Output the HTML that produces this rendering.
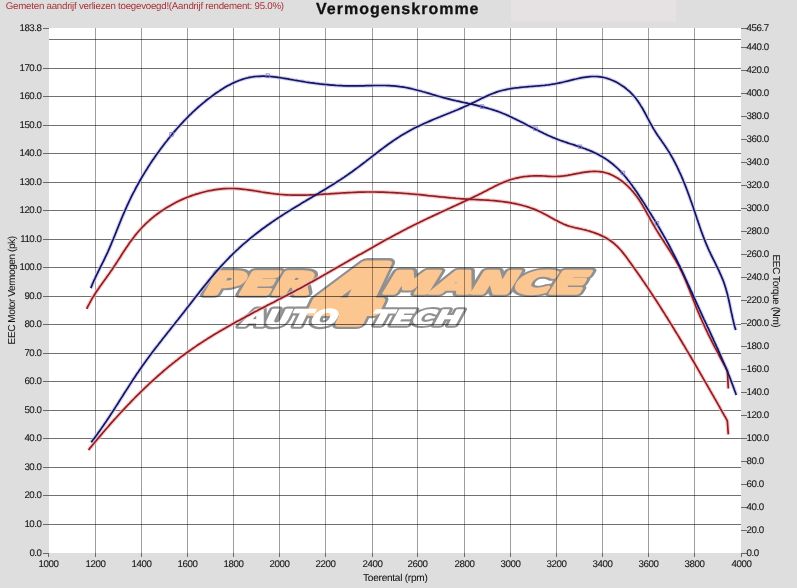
<!DOCTYPE html>
<html><head><meta charset="utf-8"><style>
html,body{margin:0;padding:0;}
body{width:797px;height:588px;overflow:hidden;background:#dedede;position:relative;}
svg{position:absolute;left:0;top:0;will-change:transform;}
</style></head><body>
<svg width="797" height="588" viewBox="0 0 797 588">
<rect x="511" y="0" width="165" height="21.5" fill="#e6e2e4"/>
<text x="5.8" y="9.0" font-family="Liberation Sans, Arial, sans-serif" font-size="9.7" letter-spacing="-0.23" text-rendering="geometricPrecision" fill="#a8323a">Gemeten aandrijf verliezen toegevoegd!(Aandrijf rendement: 95.0%)</text>
<text x="316" y="14.4" font-family="Liberation Sans, Arial, sans-serif" font-size="16" font-weight="bold" letter-spacing="1" text-rendering="geometricPrecision" fill="#111" stroke="#111" stroke-width="0.3">Vermogenskromme</text>
<rect x="49" y="28" width="692" height="525" fill="#fff"/><g font-family="DejaVu Sans, sans-serif" font-weight="bold" stroke-linejoin="round"><g transform="translate(201.97,293.70) scale(0.4813,0.3027) skewX(-20)"><text font-size="100" stroke="#909090" stroke-width="10.6" fill="#909090" vector-effect="non-scaling-stroke">PER</text></g><g transform="translate(380.82,293.41) scale(0.4973,0.2947) skewX(-20)"><text font-size="100" stroke="#909090" stroke-width="10.6" fill="#909090" vector-effect="non-scaling-stroke">MANCE</text></g><g transform="translate(301.82,322.70) scale(1.0479,0.8068) skewX(-20)"><text font-size="100" stroke="#909090" stroke-width="14.6" fill="#909090" vector-effect="non-scaling-stroke">4</text></g><g transform="translate(239.19,326.27) scale(0.3072,0.2293) skewX(-20)"><text font-size="100" stroke="#909090" stroke-width="7.0" fill="#909090" vector-effect="non-scaling-stroke">AUTO</text></g><g transform="translate(367.76,324.59) scale(0.3062,0.2067) skewX(-20)"><text font-size="100" stroke="#909090" stroke-width="7.0" fill="#909090" vector-effect="non-scaling-stroke">TECH</text></g><g transform="translate(201.97,293.70) scale(0.4813,0.3027) skewX(-20)"><text font-size="100" stroke="#fbc690" stroke-width="5.0" fill="#fbc690" vector-effect="non-scaling-stroke">PER</text></g><g transform="translate(380.82,293.41) scale(0.4973,0.2947) skewX(-20)"><text font-size="100" stroke="#fbc690" stroke-width="5.0" fill="#fbc690" vector-effect="non-scaling-stroke">MANCE</text></g><g transform="translate(301.82,322.70) scale(1.0479,0.8068) skewX(-20)"><text font-size="100" stroke="#fbc690" stroke-width="9.0" fill="#fbc690" vector-effect="non-scaling-stroke">4</text></g><g transform="translate(239.19,326.27) scale(0.3072,0.2293) skewX(-20)"><text font-size="100" stroke="#ffffff" stroke-width="1.6" fill="#ffffff" vector-effect="non-scaling-stroke">AUTO</text></g><g transform="translate(367.76,324.59) scale(0.3062,0.2067) skewX(-20)"><text font-size="100" stroke="#ffffff" stroke-width="1.6" fill="#ffffff" vector-effect="non-scaling-stroke">TECH</text></g></g><path d="M95.5,28V553M141.5,28V553M187.5,28V553M233.5,28V553M279.5,28V553M325.5,28V553M372.5,28V553M417.5,28V553M464.5,28V553M510.5,28V553M556.5,28V553M602.5,28V553M648.5,28V553M694.5,28V553" stroke="#000" stroke-opacity="0.38" stroke-width="1" fill="none"/><path d="M49,524.5H741M49,495.5H741M49,467.5H741M49,438.5H741M49,410.5H741M49,381.5H741M49,353.5H741M49,324.5H741M49,296.5H741M49,267.5H741M49,239.5H741M49,210.5H741M49,182.5H741M49,153.5H741M49,125.5H741M49,96.5H741M49,68.5H741M49,39.5H741" stroke="#000" stroke-opacity="0.56" stroke-width="1" fill="none"/><path d="M48.5,553v4M95.5,553v4M141.5,553v4M187.5,553v4M233.5,553v4M279.5,553v4M325.5,553v4M372.5,553v4M417.5,553v4M464.5,553v4M510.5,553v4M556.5,553v4M602.5,553v4M648.5,553v4M694.5,553v4M741.5,553v4M43,28.5h6M43,68.5h6M43,96.5h6M43,125.5h6M43,153.5h6M43,182.5h6M43,210.5h6M43,239.5h6M43,267.5h6M43,296.5h6M43,324.5h6M43,353.5h6M43,381.5h6M43,410.5h6M43,438.5h6M43,467.5h6M43,495.5h6M43,524.5h6M43,553.5h6M741,28.5h6M741,47.5h6M741,70.5h6M741,93.5h6M741,116.5h6M741,139.5h6M741,162.5h6M741,185.5h6M741,208.5h6M741,231.5h6M741,254.5h6M741,277.5h6M741,300.5h6M741,323.5h6M741,346.5h6M741,369.5h6M741,392.5h6M741,415.5h6M741,438.5h6M741,461.5h6M741,484.5h6M741,507.5h6M741,530.5h6M741,553.5h6" stroke="#6a6a6a" stroke-width="1" fill="none"/><path d="M86.8,308.8 87.6,306.9 88.5,305.1 89.5,303.4 90.4,301.6 91.4,299.8 92.4,298.1 93.5,296.4 94.5,294.7 95.6,293.0 96.7,291.3 97.8,289.7 99.0,288.0 100.1,286.3 101.3,284.7 102.5,283.1 103.6,281.4 104.8,279.8 106.0,278.2 107.1,276.5 108.3,274.9 109.5,273.3 110.6,271.6 111.8,270.0 112.9,268.3 114.0,266.6 115.1,265.0 116.2,263.3 117.3,261.6 118.4,259.9 119.5,258.2 120.6,256.5 121.6,254.8 122.7,253.1 123.8,251.5 124.9,249.8 126.0,248.1 127.2,246.4 128.3,244.8 129.4,243.1 130.6,241.5 131.8,239.9 133.0,238.3 134.2,236.7 135.4,235.1 136.7,233.5 138.0,232.0 139.3,230.5 140.7,229.0 142.0,227.5 143.4,226.1 144.9,224.6 146.3,223.2 147.8,221.9 149.3,220.5 150.8,219.2 152.3,217.9 153.9,216.6 155.4,215.4 157.0,214.2 158.7,213.0 160.3,211.8 161.9,210.7 163.6,209.6 165.3,208.5 167.0,207.4 168.7,206.4 170.5,205.4 172.2,204.4 174.0,203.4 175.8,202.5 177.6,201.6 179.4,200.7 181.2,199.9 183.0,199.1 184.9,198.3 186.7,197.5 188.6,196.8 190.5,196.1 192.4,195.4 194.3,194.8 196.2,194.1 198.1,193.6 200.1,193.0 202.0,192.5 203.9,192.0 205.9,191.5 207.8,191.0 209.8,190.6 211.8,190.3 213.8,189.9 215.8,189.6 217.7,189.3 219.7,189.1 221.7,188.9 223.7,188.7 225.7,188.6 227.8,188.5 229.8,188.5 231.8,188.5 233.8,188.5 235.8,188.6 237.8,188.7 239.8,188.9 241.8,189.1 243.8,189.3 245.8,189.5 247.8,189.8 249.8,190.1 251.8,190.4 253.7,190.7 255.7,191.0 257.7,191.3 259.7,191.6 261.7,192.0 263.7,192.3 265.6,192.6 267.6,192.9 269.6,193.2 271.6,193.5 273.6,193.7 275.6,194.0 277.6,194.2 279.6,194.4 281.6,194.5 283.6,194.7 285.6,194.8 287.6,194.9 289.6,195.0 291.6,195.1 293.6,195.1 295.6,195.1 297.6,195.1 299.7,195.1 301.7,195.1 303.7,195.1 305.7,195.1 307.7,195.0 309.7,194.9 311.7,194.9 313.7,194.8 315.7,194.7 317.7,194.6 319.7,194.5 321.7,194.3 323.7,194.2 325.7,194.1 327.7,194.0 329.8,193.8 331.8,193.7 333.8,193.6 335.8,193.4 337.8,193.3 339.8,193.2 341.8,193.0 343.8,192.9 345.8,192.8 347.8,192.7 349.8,192.6 351.8,192.5 353.8,192.4 355.8,192.3 357.8,192.2 359.8,192.2 361.8,192.1 363.9,192.1 365.9,192.0 367.9,192.0 369.9,192.0 371.9,192.0 373.9,192.0 375.9,192.0 377.9,192.1 379.9,192.1 381.9,192.2 383.9,192.2 386.0,192.3 388.0,192.4 390.0,192.5 392.0,192.6 394.0,192.7 396.0,192.8 398.0,192.9 400.0,193.0 402.0,193.2 404.0,193.3 406.0,193.5 408.0,193.6 410.0,193.8 412.0,194.0 414.0,194.2 416.0,194.3 418.0,194.5 420.0,194.7 422.0,194.9 424.0,195.1 426.0,195.3 428.0,195.6 430.0,195.8 432.0,196.0 434.0,196.2 436.0,196.4 438.0,196.6 440.0,196.8 442.0,197.0 444.0,197.2 446.0,197.4 448.0,197.6 450.0,197.8 452.0,198.0 454.0,198.2 456.0,198.4 458.0,198.5 460.0,198.7 462.0,198.8 464.0,198.9 466.0,199.1 468.0,199.2 470.0,199.3 472.0,199.4 474.0,199.5 476.0,199.6 478.0,199.7 480.1,199.8 482.1,199.9 484.1,200.0 486.1,200.1 488.1,200.2 490.1,200.4 492.1,200.5 494.1,200.7 496.1,200.9 498.1,201.1 500.1,201.3 502.1,201.5 504.1,201.8 506.1,202.1 508.0,202.4 510.0,202.7 512.0,203.1 514.0,203.4 515.9,203.8 517.9,204.3 519.9,204.7 521.8,205.2 523.7,205.8 525.7,206.3 527.6,206.9 529.5,207.5 531.4,208.2 533.3,208.9 535.2,209.6 537.0,210.4 538.8,211.2 540.7,212.1 542.5,213.0 544.3,213.9 546.0,214.8 547.8,215.8 549.5,216.8 551.3,217.8 553.1,218.7 554.8,219.7 556.6,220.6 558.4,221.6 560.2,222.5 562.0,223.3 563.8,224.2 565.7,224.9 567.5,225.6 569.5,226.3 571.4,226.8 573.3,227.3 575.3,227.8 577.3,228.2 579.2,228.6 581.2,229.0 583.1,229.5 585.1,229.9 587.0,230.5 589.0,231.0 590.9,231.6 592.8,232.2 594.7,232.9 596.6,233.6 598.5,234.3 600.3,235.1 602.1,235.9 603.9,236.8 605.7,237.8 607.4,238.8 609.1,239.9 610.8,241.0 612.4,242.2 614.0,243.4 615.5,244.8 617.0,246.1 618.4,247.6 619.7,249.0 621.1,250.5 622.4,252.1 623.6,253.6 624.9,255.2 626.1,256.8 627.3,258.4 628.4,260.1 629.6,261.7 630.8,263.3 632.0,265.0 633.1,266.6 634.3,268.2 635.5,269.9 636.6,271.5 637.8,273.2 638.9,274.8 640.1,276.5 641.2,278.1 642.3,279.8 643.5,281.4 644.6,283.1 645.7,284.7 646.9,286.4 648.0,288.1 649.1,289.8 650.2,291.4 651.3,293.1 652.4,294.8 653.5,296.5 654.6,298.1 655.7,299.8 656.8,301.5 657.9,303.2 659.0,304.9 660.1,306.6 661.1,308.3 662.2,310.0 663.3,311.7 664.4,313.4 665.4,315.1 666.5,316.8 667.6,318.5 668.6,320.2 669.7,321.9 670.7,323.6 671.8,325.3 672.8,327.0 673.9,328.7 674.9,330.5 676.0,332.2 677.0,333.9 678.1,335.6 679.1,337.3 680.1,339.0 681.2,340.8 682.2,342.5 683.2,344.2 684.3,345.9 685.3,347.7 686.3,349.4 687.3,351.1 688.4,352.8 689.4,354.6 690.4,356.3 691.4,358.0 692.4,359.8 693.5,361.5 694.5,363.2 695.5,365.0 696.5,366.7 697.5,368.4 698.5,370.2 699.5,371.9 700.5,373.7 701.5,375.4 702.5,377.1 703.5,378.9 704.5,380.6 705.5,382.4 706.5,384.1 707.5,385.8 708.5,387.6 709.5,389.3 710.5,391.1 711.5,392.8 712.5,394.6 713.5,396.3 714.5,398.1 715.5,399.8 716.5,401.6 717.5,403.3 718.5,405.1 719.5,406.8 720.4,408.6 721.4,410.3 722.4,412.1 723.4,413.8 724.4,415.6 725.4,417.3 726.4,419.1 727.3,420.8 L728.3,434.4" stroke="#f3b5b5" stroke-width="4" fill="none" stroke-linejoin="round" opacity="0.7"/><path d="M88.5,450.0 89.7,448.4 91.0,446.9 92.3,445.3 93.6,443.8 94.9,442.2 96.1,440.7 97.4,439.2 98.7,437.6 100.0,436.1 101.3,434.6 102.6,433.0 103.9,431.5 105.2,430.0 106.5,428.5 107.9,427.0 109.2,425.4 110.5,423.9 111.8,422.4 113.2,420.9 114.5,419.4 115.9,418.0 117.2,416.5 118.6,415.0 119.9,413.5 121.3,412.0 122.6,410.6 124.0,409.1 125.4,407.6 126.8,406.2 128.1,404.7 129.5,403.3 130.9,401.8 132.3,400.4 133.7,399.0 135.1,397.5 136.5,396.1 138.0,394.7 139.4,393.3 140.8,391.9 142.3,390.5 143.7,389.1 145.2,387.7 146.6,386.3 148.1,384.9 149.5,383.5 151.0,382.2 152.5,380.8 154.0,379.5 155.5,378.1 156.9,376.8 158.4,375.5 160.0,374.1 161.5,372.8 163.0,371.5 164.5,370.2 166.1,368.9 167.6,367.6 169.1,366.3 170.7,365.1 172.2,363.8 173.8,362.6 175.4,361.3 177.0,360.1 178.6,358.8 180.1,357.6 181.7,356.4 183.4,355.2 185.0,354.0 186.6,352.8 188.2,351.7 189.9,350.5 191.5,349.4 193.1,348.2 194.8,347.1 196.5,345.9 198.1,344.8 199.8,343.7 201.5,342.6 203.2,341.5 204.8,340.4 206.5,339.4 208.2,338.3 209.9,337.2 211.6,336.2 213.4,335.1 215.1,334.1 216.8,333.1 218.5,332.0 220.2,331.0 222.0,330.0 223.7,329.0 225.5,328.0 227.2,327.0 228.9,326.0 230.7,325.0 232.4,324.0 234.2,323.1 235.9,322.1 237.7,321.1 239.5,320.2 241.2,319.2 243.0,318.2 244.8,317.3 246.5,316.3 248.3,315.4 250.1,314.5 251.8,313.5 253.6,312.6 255.4,311.6 257.2,310.7 258.9,309.8 260.7,308.8 262.5,307.9 264.3,307.0 266.1,306.1 267.8,305.1 269.6,304.2 271.4,303.3 273.2,302.4 275.0,301.4 276.7,300.5 278.5,299.6 280.3,298.7 282.1,297.7 283.9,296.8 285.6,295.9 287.4,295.0 289.2,294.0 291.0,293.1 292.8,292.2 294.5,291.2 296.3,290.3 298.1,289.3 299.8,288.4 301.6,287.4 303.4,286.5 305.1,285.5 306.9,284.6 308.7,283.6 310.4,282.6 312.2,281.7 313.9,280.7 315.7,279.7 317.4,278.7 319.2,277.8 320.9,276.8 322.7,275.8 324.4,274.8 326.2,273.8 327.9,272.8 329.7,271.8 331.4,270.8 333.1,269.8 334.9,268.8 336.6,267.8 338.4,266.8 340.1,265.8 341.8,264.8 343.6,263.8 345.3,262.8 347.1,261.8 348.8,260.8 350.5,259.8 352.3,258.8 354.0,257.8 355.8,256.8 357.5,255.8 359.2,254.8 361.0,253.9 362.7,252.9 364.5,251.9 366.2,250.9 368.0,249.9 369.7,248.9 371.5,247.9 373.2,246.9 374.9,245.9 376.7,244.9 378.5,244.0 380.2,243.0 382.0,242.0 383.7,241.0 385.5,240.1 387.2,239.1 389.0,238.2 390.8,237.2 392.5,236.2 394.3,235.3 396.1,234.3 397.8,233.4 399.6,232.5 401.4,231.5 403.2,230.6 404.9,229.7 406.7,228.8 408.5,227.8 410.3,226.9 412.1,226.0 413.9,225.1 415.7,224.2 417.5,223.3 419.3,222.5 421.1,221.6 422.9,220.7 424.7,219.8 426.5,219.0 428.3,218.1 430.1,217.3 431.9,216.4 433.8,215.6 435.6,214.7 437.4,213.9 439.2,213.0 441.0,212.2 442.9,211.3 444.7,210.5 446.5,209.7 448.3,208.8 450.2,208.0 452.0,207.1 453.8,206.3 455.6,205.5 457.5,204.6 459.3,203.8 461.1,202.9 462.9,202.1 464.7,201.2 466.5,200.4 468.4,199.5 470.2,198.7 472.0,197.8 473.8,196.9 475.6,196.0 477.4,195.2 479.2,194.3 481.0,193.4 482.8,192.5 484.6,191.6 486.4,190.7 488.1,189.7 489.9,188.8 491.7,187.9 493.5,187.0 495.3,186.1 497.1,185.2 498.9,184.3 500.7,183.5 502.6,182.7 504.4,181.9 506.3,181.2 508.2,180.5 510.0,179.8 512.0,179.2 513.9,178.7 515.8,178.2 517.8,177.8 519.8,177.4 521.7,177.0 523.7,176.7 525.7,176.5 527.7,176.3 529.7,176.1 531.7,176.0 533.7,175.9 535.7,175.8 537.7,175.8 539.7,175.9 541.7,175.9 543.8,176.0 545.8,176.1 547.8,176.3 549.8,176.4 551.8,176.5 553.8,176.5 555.8,176.5 557.8,176.4 559.8,176.3 561.8,176.1 563.8,175.9 565.8,175.6 567.7,175.3 569.7,174.9 571.7,174.6 573.7,174.2 575.6,173.8 577.6,173.4 579.6,173.1 581.6,172.7 583.5,172.4 585.5,172.1 587.5,171.8 589.5,171.6 591.5,171.5 593.5,171.4 595.5,171.4 597.5,171.5 599.5,171.6 601.5,171.9 603.5,172.2 605.4,172.7 607.4,173.3 609.3,173.9 611.1,174.7 612.9,175.5 614.7,176.4 616.5,177.4 618.2,178.5 619.8,179.6 621.5,180.8 623.1,182.0 624.6,183.3 626.1,184.6 627.6,186.0 629.0,187.4 630.4,188.8 631.7,190.3 633.1,191.8 634.3,193.4 635.6,195.0 636.8,196.6 638.0,198.2 639.1,199.8 640.2,201.5 641.3,203.2 642.3,204.9 643.3,206.7 644.3,208.4 645.3,210.2 646.3,211.9 647.2,213.7 648.2,215.4 649.2,217.2 650.1,219.0 651.1,220.7 652.1,222.5 653.1,224.2 654.1,225.9 655.1,227.7 656.1,229.4 657.2,231.1 658.2,232.8 659.3,234.5 660.4,236.2 661.5,237.9 662.6,239.6 663.7,241.2 664.7,242.9 665.8,244.6 666.9,246.3 668.0,248.0 669.1,249.7 670.2,251.4 671.2,253.1 672.3,254.8 673.3,256.5 674.4,258.2 675.4,259.9 676.4,261.7 677.4,263.4 678.3,265.2 679.3,267.0 680.2,268.7 681.1,270.5 682.0,272.3 682.8,274.2 683.7,276.0 684.5,277.8 685.3,279.7 686.0,281.5 686.8,283.4 687.6,285.2 688.3,287.1 689.1,288.9 689.8,290.8 690.5,292.7 691.3,294.6 692.0,296.4 692.7,298.3 693.4,300.2 694.2,302.0 694.9,303.9 695.6,305.8 696.4,307.6 697.1,309.5 697.9,311.3 698.7,313.2 699.5,315.0 700.3,316.9 701.1,318.7 701.9,320.5 702.7,322.4 703.6,324.2 704.4,326.0 705.2,327.8 706.1,329.7 707.0,331.5 707.8,333.3 708.7,335.1 709.6,336.9 710.5,338.7 711.4,340.5 712.3,342.3 713.2,344.0 714.1,345.8 715.0,347.6 716.0,349.4 716.9,351.2 717.8,352.9 718.8,354.7 719.7,356.5 720.7,358.3 721.6,360.0 722.6,361.8 723.5,363.5 724.5,365.3 725.5,367.1 726.4,368.8 727.4,370.6 L728.3,388.5" stroke="#f3b5b5" stroke-width="4" fill="none" stroke-linejoin="round" opacity="0.7"/><path d="M90.8,288.1 91.6,286.2 92.3,284.4 93.1,282.5 93.9,280.7 94.8,278.8 95.6,277.0 96.5,275.2 97.4,273.4 98.2,271.6 99.1,269.8 100.0,268.0 100.9,266.2 101.8,264.4 102.7,262.6 103.6,260.8 104.5,259.0 105.3,257.2 106.2,255.4 107.0,253.6 107.9,251.8 108.7,249.9 109.5,248.1 110.3,246.2 111.1,244.4 111.8,242.5 112.6,240.7 113.4,238.8 114.1,237.0 114.9,235.1 115.6,233.3 116.4,231.4 117.1,229.5 117.9,227.7 118.6,225.8 119.4,223.9 120.1,222.1 120.9,220.2 121.6,218.4 122.4,216.5 123.2,214.7 124.0,212.8 124.8,211.0 125.6,209.1 126.4,207.3 127.2,205.5 128.1,203.7 128.9,201.9 129.8,200.0 130.7,198.2 131.5,196.4 132.4,194.6 133.3,192.9 134.3,191.1 135.2,189.3 136.1,187.5 137.1,185.8 138.1,184.0 139.0,182.3 140.0,180.5 141.0,178.8 142.0,177.0 143.1,175.3 144.1,173.6 145.1,171.9 146.2,170.2 147.3,168.5 148.3,166.8 149.4,165.1 150.5,163.4 151.6,161.7 152.7,160.1 153.9,158.4 155.0,156.8 156.2,155.1 157.3,153.5 158.5,151.9 159.7,150.2 160.9,148.6 162.1,147.0 163.3,145.4 164.5,143.8 165.7,142.2 167.0,140.7 168.2,139.1 169.5,137.5 170.8,136.0 172.0,134.4 173.3,132.9 174.6,131.4 175.9,129.9 177.3,128.3 178.6,126.8 179.9,125.4 181.3,123.9 182.7,122.4 184.0,120.9 185.4,119.5 186.8,118.1 188.2,116.6 189.6,115.2 191.1,113.8 192.5,112.4 194.0,111.0 195.5,109.7 196.9,108.3 198.4,107.0 200.0,105.7 201.5,104.4 203.0,103.1 204.6,101.8 206.1,100.5 207.7,99.3 209.3,98.1 210.9,96.9 212.5,95.7 214.1,94.5 215.7,93.3 217.4,92.2 219.1,91.1 220.7,90.0 222.4,88.9 224.2,87.8 225.9,86.8 227.6,85.8 229.4,84.9 231.2,84.0 233.0,83.1 234.8,82.3 236.6,81.5 238.5,80.7 240.4,80.0 242.3,79.4 244.2,78.8 246.1,78.2 248.1,77.7 250.0,77.3 252.0,77.0 254.0,76.7 256.0,76.5 258.0,76.4 260.0,76.3 262.0,76.2 264.0,76.2 266.0,76.3 268.0,76.4 270.0,76.5 272.0,76.7 274.0,76.9 276.0,77.1 278.0,77.4 280.0,77.7 282.0,78.0 284.0,78.3 285.9,78.6 287.9,78.9 289.9,79.3 291.9,79.6 293.8,80.0 295.8,80.3 297.8,80.7 299.8,81.0 301.7,81.3 303.7,81.6 305.7,82.0 307.7,82.3 309.7,82.6 311.7,82.8 313.7,83.1 315.6,83.4 317.6,83.6 319.6,83.9 321.6,84.1 323.6,84.3 325.6,84.5 327.6,84.7 329.6,84.9 331.6,85.1 333.6,85.2 335.6,85.4 337.6,85.5 339.6,85.6 341.6,85.7 343.6,85.8 345.6,85.8 347.6,85.9 349.6,85.9 351.6,85.9 353.6,85.9 355.6,85.9 357.7,85.9 359.7,85.8 361.7,85.8 363.7,85.8 365.7,85.7 367.7,85.7 369.7,85.6 371.7,85.6 373.7,85.5 375.7,85.5 377.7,85.5 379.7,85.5 381.7,85.5 383.7,85.5 385.7,85.5 387.7,85.6 389.7,85.7 391.7,85.8 393.7,85.9 395.7,86.1 397.7,86.3 399.7,86.6 401.7,86.8 403.7,87.1 405.7,87.5 407.7,87.9 409.6,88.3 411.6,88.7 413.5,89.2 415.5,89.7 417.4,90.2 419.4,90.7 421.3,91.2 423.2,91.8 425.1,92.3 427.1,92.9 429.0,93.4 430.9,94.0 432.8,94.6 434.8,95.1 436.7,95.7 438.6,96.3 440.5,96.8 442.5,97.4 444.4,97.9 446.4,98.4 448.3,98.9 450.2,99.4 452.2,99.9 454.1,100.3 456.1,100.8 458.1,101.2 460.0,101.6 462.0,102.1 463.9,102.5 465.9,102.9 467.9,103.4 469.8,103.8 471.8,104.2 473.7,104.7 475.7,105.1 477.6,105.6 479.6,106.1 481.5,106.6 483.5,107.1 485.4,107.6 487.3,108.1 489.3,108.7 491.2,109.3 493.1,109.9 495.0,110.5 496.9,111.1 498.8,111.8 500.7,112.5 502.5,113.3 504.4,114.0 506.2,114.8 508.1,115.6 509.9,116.5 511.7,117.3 513.5,118.2 515.3,119.0 517.1,119.9 518.9,120.8 520.7,121.7 522.5,122.6 524.3,123.5 526.1,124.4 527.9,125.4 529.7,126.3 531.4,127.2 533.2,128.1 535.0,129.0 536.8,129.9 538.6,130.8 540.4,131.7 542.2,132.6 544.0,133.5 545.8,134.3 547.6,135.2 549.5,136.0 551.3,136.8 553.1,137.6 555.0,138.3 556.9,139.1 558.7,139.8 560.6,140.5 562.5,141.1 564.4,141.8 566.3,142.4 568.2,143.1 570.1,143.7 572.0,144.3 574.0,144.9 575.9,145.6 577.8,146.2 579.7,146.8 581.6,147.5 583.5,148.2 585.3,148.8 587.2,149.6 589.1,150.3 590.9,151.1 592.8,151.9 594.6,152.7 596.4,153.6 598.2,154.5 599.9,155.5 601.7,156.4 603.4,157.5 605.1,158.5 606.8,159.6 608.4,160.8 610.0,162.0 611.6,163.2 613.2,164.5 614.7,165.8 616.2,167.1 617.7,168.5 619.1,169.9 620.5,171.3 621.9,172.8 623.2,174.3 624.5,175.8 625.8,177.3 627.1,178.9 628.3,180.5 629.6,182.0 630.8,183.7 632.0,185.3 633.1,186.9 634.3,188.5 635.4,190.2 636.6,191.8 637.7,193.5 638.8,195.2 639.9,196.9 641.0,198.5 642.1,200.2 643.2,201.9 644.3,203.6 645.3,205.3 646.4,207.0 647.5,208.7 648.6,210.4 649.6,212.1 650.7,213.8 651.7,215.5 652.8,217.2 653.8,218.9 654.9,220.6 655.9,222.3 656.9,224.0 658.0,225.8 659.0,227.5 660.0,229.2 661.0,231.0 662.0,232.7 663.0,234.4 664.0,236.2 665.0,237.9 666.0,239.7 666.9,241.4 667.9,243.2 668.9,245.0 669.8,246.7 670.7,248.5 671.7,250.3 672.6,252.1 673.5,253.8 674.4,255.6 675.3,257.4 676.2,259.2 677.1,261.0 678.0,262.8 678.9,264.6 679.8,266.4 680.6,268.2 681.5,270.0 682.4,271.8 683.2,273.7 684.1,275.5 684.9,277.3 685.7,279.1 686.6,280.9 687.4,282.8 688.2,284.6 689.1,286.4 689.9,288.3 690.7,290.1 691.6,291.9 692.4,293.7 693.2,295.6 694.0,297.4 694.9,299.2 695.7,301.1 696.5,302.9 697.3,304.7 698.2,306.5 699.0,308.4 699.8,310.2 700.7,312.0 701.5,313.8 702.3,315.7 703.2,317.5 704.0,319.3 704.9,321.1 705.7,322.9 706.6,324.7 707.4,326.6 708.3,328.4 709.1,330.2 709.9,332.0 710.8,333.8 711.6,335.7 712.5,337.5 713.3,339.3 714.1,341.1 715.0,343.0 715.8,344.8 716.6,346.6 717.5,348.4 718.3,350.3 719.1,352.1 719.9,353.9 720.7,355.8 721.5,357.6 722.3,359.5 723.1,361.3 723.9,363.1 724.7,365.0 725.5,366.8 726.2,368.7 727.0,370.5 727.8,372.4 728.5,374.3 729.3,376.1 730.0,378.0 730.7,379.9 731.4,381.7 732.1,383.6 732.8,385.5 733.5,387.4 734.2,389.3 734.9,391.2 735.6,393.0 736.2,394.9" stroke="#c4c4ec" stroke-width="4" fill="none" stroke-linejoin="round" opacity="0.7"/><path d="M91.2,442.2 92.5,440.6 93.7,439.0 94.9,437.4 96.1,435.8 97.3,434.2 98.4,432.5 99.6,430.9 100.8,429.3 101.9,427.6 103.1,426.0 104.2,424.3 105.3,422.7 106.5,421.0 107.6,419.3 108.7,417.7 109.8,416.0 110.9,414.3 112.0,412.6 113.1,410.9 114.2,409.3 115.2,407.6 116.3,405.9 117.4,404.2 118.5,402.5 119.5,400.8 120.6,399.1 121.7,397.4 122.8,395.7 123.8,394.0 124.9,392.3 126.0,390.6 127.1,388.9 128.2,387.3 129.2,385.6 130.3,383.9 131.4,382.2 132.5,380.5 133.6,378.8 134.7,377.2 135.8,375.5 136.9,373.8 138.1,372.2 139.2,370.5 140.3,368.9 141.5,367.2 142.6,365.6 143.8,363.9 145.0,362.3 146.1,360.7 147.3,359.1 148.5,357.4 149.7,355.8 150.9,354.2 152.1,352.6 153.3,351.0 154.5,349.4 155.8,347.8 157.0,346.2 158.2,344.7 159.4,343.1 160.7,341.5 161.9,339.9 163.1,338.3 164.4,336.8 165.6,335.2 166.9,333.6 168.1,332.0 169.4,330.5 170.6,328.9 171.9,327.3 173.1,325.8 174.4,324.2 175.6,322.6 176.8,321.0 178.1,319.5 179.3,317.9 180.6,316.3 181.8,314.7 183.0,313.2 184.3,311.6 185.5,310.0 186.7,308.4 188.0,306.8 189.2,305.2 190.4,303.7 191.7,302.1 192.9,300.5 194.1,298.9 195.4,297.3 196.6,295.7 197.8,294.2 199.1,292.6 200.3,291.0 201.6,289.4 202.8,287.9 204.1,286.3 205.3,284.8 206.6,283.2 207.9,281.6 209.1,280.1 210.4,278.5 211.7,277.0 213.0,275.5 214.3,273.9 215.6,272.4 216.9,270.9 218.2,269.4 219.6,267.9 220.9,266.4 222.3,264.9 223.6,263.5 225.0,262.0 226.4,260.5 227.8,259.1 229.2,257.6 230.6,256.2 232.0,254.8 233.4,253.4 234.9,252.0 236.3,250.6 237.8,249.3 239.3,247.9 240.7,246.6 242.2,245.2 243.7,243.9 245.3,242.6 246.8,241.3 248.3,240.0 249.9,238.7 251.4,237.4 253.0,236.2 254.6,234.9 256.1,233.7 257.7,232.5 259.3,231.3 260.9,230.0 262.5,228.8 264.1,227.7 265.8,226.5 267.4,225.3 269.0,224.2 270.7,223.0 272.3,221.9 274.0,220.7 275.6,219.6 277.3,218.5 279.0,217.4 280.7,216.3 282.3,215.2 284.0,214.1 285.7,213.0 287.4,212.0 289.1,210.9 290.8,209.9 292.5,208.8 294.3,207.8 296.0,206.7 297.7,205.7 299.4,204.7 301.1,203.6 302.8,202.6 304.6,201.6 306.3,200.5 308.0,199.5 309.7,198.5 311.5,197.5 313.2,196.4 314.9,195.4 316.6,194.4 318.4,193.4 320.1,192.3 321.8,191.3 323.5,190.3 325.2,189.2 326.9,188.2 328.7,187.1 330.4,186.1 332.1,185.0 333.8,184.0 335.5,182.9 337.1,181.8 338.8,180.7 340.5,179.6 342.2,178.5 343.9,177.4 345.5,176.3 347.2,175.1 348.8,174.0 350.5,172.8 352.1,171.7 353.7,170.5 355.3,169.3 356.9,168.1 358.6,166.9 360.2,165.7 361.7,164.5 363.3,163.3 364.9,162.1 366.5,160.8 368.1,159.6 369.7,158.4 371.3,157.1 372.9,155.9 374.4,154.7 376.0,153.5 377.6,152.2 379.2,151.0 380.8,149.8 382.4,148.6 384.0,147.4 385.6,146.2 387.2,145.0 388.9,143.8 390.5,142.7 392.2,141.5 393.8,140.4 395.5,139.3 397.1,138.2 398.8,137.1 400.5,136.0 402.2,134.9 403.9,133.9 405.7,132.9 407.4,131.9 409.2,130.9 410.9,130.0 412.7,129.1 414.5,128.1 416.3,127.2 418.1,126.4 419.9,125.5 421.7,124.7 423.6,123.8 425.4,123.0 427.2,122.2 429.1,121.4 430.9,120.6 432.7,119.8 434.6,119.0 436.4,118.3 438.3,117.5 440.2,116.8 442.0,116.0 443.9,115.2 445.7,114.5 447.6,113.7 449.5,113.0 451.3,112.2 453.2,111.5 455.0,110.7 456.9,110.0 458.7,109.2 460.6,108.4 462.4,107.6 464.3,106.8 466.1,106.0 467.9,105.2 469.7,104.3 471.5,103.4 473.4,102.6 475.2,101.7 477.0,100.8 478.7,99.9 480.5,99.0 482.3,98.1 484.2,97.3 486.0,96.4 487.8,95.6 489.6,94.8 491.5,94.0 493.4,93.3 495.2,92.6 497.1,91.9 499.0,91.3 501.0,90.8 502.9,90.3 504.9,89.8 506.8,89.4 508.8,89.0 510.8,88.6 512.7,88.3 514.7,88.0 516.7,87.8 518.7,87.6 520.7,87.3 522.7,87.2 524.7,87.0 526.7,86.8 528.7,86.6 530.7,86.5 532.7,86.3 534.7,86.2 536.7,86.0 538.7,85.8 540.7,85.7 542.7,85.5 544.7,85.3 546.7,85.0 548.7,84.8 550.7,84.5 552.6,84.2 554.6,83.9 556.6,83.5 558.6,83.1 560.5,82.7 562.5,82.3 564.4,81.8 566.4,81.3 568.3,80.9 570.3,80.4 572.2,79.9 574.2,79.4 576.1,79.0 578.1,78.5 580.0,78.1 582.0,77.7 584.0,77.4 586.0,77.1 588.0,76.8 590.0,76.6 592.0,76.5 594.0,76.5 596.0,76.5 598.0,76.6 600.0,76.8 601.9,77.1 603.9,77.5 605.9,78.0 607.8,78.6 609.7,79.2 611.5,80.0 613.4,80.8 615.2,81.6 617.0,82.6 618.7,83.5 620.4,84.6 622.1,85.7 623.8,86.8 625.4,88.0 626.9,89.3 628.5,90.6 630.0,91.9 631.4,93.3 632.8,94.8 634.1,96.3 635.4,97.8 636.6,99.4 637.8,101.0 638.9,102.7 640.0,104.4 641.0,106.1 642.1,107.8 643.1,109.5 644.0,111.3 645.0,113.0 646.0,114.8 646.9,116.6 647.8,118.4 648.8,120.1 649.7,121.9 650.7,123.7 651.7,125.4 652.6,127.2 653.6,128.9 654.7,130.6 655.7,132.3 656.8,134.0 657.9,135.7 659.1,137.3 660.2,139.0 661.4,140.6 662.5,142.3 663.7,143.9 664.8,145.6 665.9,147.2 667.0,148.9 668.1,150.6 669.2,152.3 670.2,154.0 671.2,155.7 672.2,157.5 673.2,159.2 674.1,161.0 675.1,162.8 676.0,164.6 676.9,166.4 677.7,168.2 678.6,170.0 679.4,171.8 680.3,173.6 681.1,175.5 681.9,177.3 682.7,179.1 683.4,181.0 684.2,182.9 684.9,184.7 685.7,186.6 686.4,188.5 687.1,190.3 687.8,192.2 688.5,194.1 689.2,196.0 689.9,197.9 690.5,199.8 691.2,201.6 691.9,203.5 692.5,205.4 693.2,207.3 693.8,209.2 694.5,211.1 695.1,213.0 695.7,214.9 696.4,216.8 697.0,218.7 697.7,220.6 698.3,222.5 699.0,224.4 699.6,226.3 700.3,228.2 700.9,230.1 701.6,232.0 702.3,233.9 703.0,235.8 703.7,237.6 704.4,239.5 705.2,241.4 705.9,243.2 706.7,245.1 707.5,246.9 708.3,248.8 709.1,250.6 710.0,252.4 710.8,254.2 711.7,256.0 712.6,257.8 713.5,259.6 714.4,261.4 715.3,263.2 716.1,265.0 717.0,266.8 717.9,268.6 718.8,270.4 719.6,272.3 720.4,274.1 721.2,275.9 722.0,277.8 722.8,279.6 723.5,281.5 724.2,283.4 724.8,285.3 725.4,287.2 726.0,289.1 726.5,291.1 727.1,293.0 727.6,294.9 728.0,296.9 728.5,298.8 728.9,300.8 729.4,302.8 729.8,304.7 730.2,306.7 730.6,308.6 731.0,310.6 731.4,312.6 731.9,314.5 732.3,316.5 732.7,318.4 733.2,320.4 733.6,322.3 734.1,324.3 734.6,326.2 735.2,328.2 735.8,330.1" stroke="#c4c4ec" stroke-width="4" fill="none" stroke-linejoin="round" opacity="0.7"/><path d="M86.8,308.8 87.6,306.9 88.5,305.1 89.5,303.4 90.4,301.6 91.4,299.8 92.4,298.1 93.5,296.4 94.5,294.7 95.6,293.0 96.7,291.3 97.8,289.7 99.0,288.0 100.1,286.3 101.3,284.7 102.5,283.1 103.6,281.4 104.8,279.8 106.0,278.2 107.1,276.5 108.3,274.9 109.5,273.3 110.6,271.6 111.8,270.0 112.9,268.3 114.0,266.6 115.1,265.0 116.2,263.3 117.3,261.6 118.4,259.9 119.5,258.2 120.6,256.5 121.6,254.8 122.7,253.1 123.8,251.5 124.9,249.8 126.0,248.1 127.2,246.4 128.3,244.8 129.4,243.1 130.6,241.5 131.8,239.9 133.0,238.3 134.2,236.7 135.4,235.1 136.7,233.5 138.0,232.0 139.3,230.5 140.7,229.0 142.0,227.5 143.4,226.1 144.9,224.6 146.3,223.2 147.8,221.9 149.3,220.5 150.8,219.2 152.3,217.9 153.9,216.6 155.4,215.4 157.0,214.2 158.7,213.0 160.3,211.8 161.9,210.7 163.6,209.6 165.3,208.5 167.0,207.4 168.7,206.4 170.5,205.4 172.2,204.4 174.0,203.4 175.8,202.5 177.6,201.6 179.4,200.7 181.2,199.9 183.0,199.1 184.9,198.3 186.7,197.5 188.6,196.8 190.5,196.1 192.4,195.4 194.3,194.8 196.2,194.1 198.1,193.6 200.1,193.0 202.0,192.5 203.9,192.0 205.9,191.5 207.8,191.0 209.8,190.6 211.8,190.3 213.8,189.9 215.8,189.6 217.7,189.3 219.7,189.1 221.7,188.9 223.7,188.7 225.7,188.6 227.8,188.5 229.8,188.5 231.8,188.5 233.8,188.5 235.8,188.6 237.8,188.7 239.8,188.9 241.8,189.1 243.8,189.3 245.8,189.5 247.8,189.8 249.8,190.1 251.8,190.4 253.7,190.7 255.7,191.0 257.7,191.3 259.7,191.6 261.7,192.0 263.7,192.3 265.6,192.6 267.6,192.9 269.6,193.2 271.6,193.5 273.6,193.7 275.6,194.0 277.6,194.2 279.6,194.4 281.6,194.5 283.6,194.7 285.6,194.8 287.6,194.9 289.6,195.0 291.6,195.1 293.6,195.1 295.6,195.1 297.6,195.1 299.7,195.1 301.7,195.1 303.7,195.1 305.7,195.1 307.7,195.0 309.7,194.9 311.7,194.9 313.7,194.8 315.7,194.7 317.7,194.6 319.7,194.5 321.7,194.3 323.7,194.2 325.7,194.1 327.7,194.0 329.8,193.8 331.8,193.7 333.8,193.6 335.8,193.4 337.8,193.3 339.8,193.2 341.8,193.0 343.8,192.9 345.8,192.8 347.8,192.7 349.8,192.6 351.8,192.5 353.8,192.4 355.8,192.3 357.8,192.2 359.8,192.2 361.8,192.1 363.9,192.1 365.9,192.0 367.9,192.0 369.9,192.0 371.9,192.0 373.9,192.0 375.9,192.0 377.9,192.1 379.9,192.1 381.9,192.2 383.9,192.2 386.0,192.3 388.0,192.4 390.0,192.5 392.0,192.6 394.0,192.7 396.0,192.8 398.0,192.9 400.0,193.0 402.0,193.2 404.0,193.3 406.0,193.5 408.0,193.6 410.0,193.8 412.0,194.0 414.0,194.2 416.0,194.3 418.0,194.5 420.0,194.7 422.0,194.9 424.0,195.1 426.0,195.3 428.0,195.6 430.0,195.8 432.0,196.0 434.0,196.2 436.0,196.4 438.0,196.6 440.0,196.8 442.0,197.0 444.0,197.2 446.0,197.4 448.0,197.6 450.0,197.8 452.0,198.0 454.0,198.2 456.0,198.4 458.0,198.5 460.0,198.7 462.0,198.8 464.0,198.9 466.0,199.1 468.0,199.2 470.0,199.3 472.0,199.4 474.0,199.5 476.0,199.6 478.0,199.7 480.1,199.8 482.1,199.9 484.1,200.0 486.1,200.1 488.1,200.2 490.1,200.4 492.1,200.5 494.1,200.7 496.1,200.9 498.1,201.1 500.1,201.3 502.1,201.5 504.1,201.8 506.1,202.1 508.0,202.4 510.0,202.7 512.0,203.1 514.0,203.4 515.9,203.8 517.9,204.3 519.9,204.7 521.8,205.2 523.7,205.8 525.7,206.3 527.6,206.9 529.5,207.5 531.4,208.2 533.3,208.9 535.2,209.6 537.0,210.4 538.8,211.2 540.7,212.1 542.5,213.0 544.3,213.9 546.0,214.8 547.8,215.8 549.5,216.8 551.3,217.8 553.1,218.7 554.8,219.7 556.6,220.6 558.4,221.6 560.2,222.5 562.0,223.3 563.8,224.2 565.7,224.9 567.5,225.6 569.5,226.3 571.4,226.8 573.3,227.3 575.3,227.8 577.3,228.2 579.2,228.6 581.2,229.0 583.1,229.5 585.1,229.9 587.0,230.5 589.0,231.0 590.9,231.6 592.8,232.2 594.7,232.9 596.6,233.6 598.5,234.3 600.3,235.1 602.1,235.9 603.9,236.8 605.7,237.8 607.4,238.8 609.1,239.9 610.8,241.0 612.4,242.2 614.0,243.4 615.5,244.8 617.0,246.1 618.4,247.6 619.7,249.0 621.1,250.5 622.4,252.1 623.6,253.6 624.9,255.2 626.1,256.8 627.3,258.4 628.4,260.1 629.6,261.7 630.8,263.3 632.0,265.0 633.1,266.6 634.3,268.2 635.5,269.9 636.6,271.5 637.8,273.2 638.9,274.8 640.1,276.5 641.2,278.1 642.3,279.8 643.5,281.4 644.6,283.1 645.7,284.7 646.9,286.4 648.0,288.1 649.1,289.8 650.2,291.4 651.3,293.1 652.4,294.8 653.5,296.5 654.6,298.1 655.7,299.8 656.8,301.5 657.9,303.2 659.0,304.9 660.1,306.6 661.1,308.3 662.2,310.0 663.3,311.7 664.4,313.4 665.4,315.1 666.5,316.8 667.6,318.5 668.6,320.2 669.7,321.9 670.7,323.6 671.8,325.3 672.8,327.0 673.9,328.7 674.9,330.5 676.0,332.2 677.0,333.9 678.1,335.6 679.1,337.3 680.1,339.0 681.2,340.8 682.2,342.5 683.2,344.2 684.3,345.9 685.3,347.7 686.3,349.4 687.3,351.1 688.4,352.8 689.4,354.6 690.4,356.3 691.4,358.0 692.4,359.8 693.5,361.5 694.5,363.2 695.5,365.0 696.5,366.7 697.5,368.4 698.5,370.2 699.5,371.9 700.5,373.7 701.5,375.4 702.5,377.1 703.5,378.9 704.5,380.6 705.5,382.4 706.5,384.1 707.5,385.8 708.5,387.6 709.5,389.3 710.5,391.1 711.5,392.8 712.5,394.6 713.5,396.3 714.5,398.1 715.5,399.8 716.5,401.6 717.5,403.3 718.5,405.1 719.5,406.8 720.4,408.6 721.4,410.3 722.4,412.1 723.4,413.8 724.4,415.6 725.4,417.3 726.4,419.1 727.3,420.8 L728.3,434.4" stroke="#8f1d24" stroke-width="1.7" fill="none" stroke-linejoin="round"/><path d="M88.5,450.0 89.7,448.4 91.0,446.9 92.3,445.3 93.6,443.8 94.9,442.2 96.1,440.7 97.4,439.2 98.7,437.6 100.0,436.1 101.3,434.6 102.6,433.0 103.9,431.5 105.2,430.0 106.5,428.5 107.9,427.0 109.2,425.4 110.5,423.9 111.8,422.4 113.2,420.9 114.5,419.4 115.9,418.0 117.2,416.5 118.6,415.0 119.9,413.5 121.3,412.0 122.6,410.6 124.0,409.1 125.4,407.6 126.8,406.2 128.1,404.7 129.5,403.3 130.9,401.8 132.3,400.4 133.7,399.0 135.1,397.5 136.5,396.1 138.0,394.7 139.4,393.3 140.8,391.9 142.3,390.5 143.7,389.1 145.2,387.7 146.6,386.3 148.1,384.9 149.5,383.5 151.0,382.2 152.5,380.8 154.0,379.5 155.5,378.1 156.9,376.8 158.4,375.5 160.0,374.1 161.5,372.8 163.0,371.5 164.5,370.2 166.1,368.9 167.6,367.6 169.1,366.3 170.7,365.1 172.2,363.8 173.8,362.6 175.4,361.3 177.0,360.1 178.6,358.8 180.1,357.6 181.7,356.4 183.4,355.2 185.0,354.0 186.6,352.8 188.2,351.7 189.9,350.5 191.5,349.4 193.1,348.2 194.8,347.1 196.5,345.9 198.1,344.8 199.8,343.7 201.5,342.6 203.2,341.5 204.8,340.4 206.5,339.4 208.2,338.3 209.9,337.2 211.6,336.2 213.4,335.1 215.1,334.1 216.8,333.1 218.5,332.0 220.2,331.0 222.0,330.0 223.7,329.0 225.5,328.0 227.2,327.0 228.9,326.0 230.7,325.0 232.4,324.0 234.2,323.1 235.9,322.1 237.7,321.1 239.5,320.2 241.2,319.2 243.0,318.2 244.8,317.3 246.5,316.3 248.3,315.4 250.1,314.5 251.8,313.5 253.6,312.6 255.4,311.6 257.2,310.7 258.9,309.8 260.7,308.8 262.5,307.9 264.3,307.0 266.1,306.1 267.8,305.1 269.6,304.2 271.4,303.3 273.2,302.4 275.0,301.4 276.7,300.5 278.5,299.6 280.3,298.7 282.1,297.7 283.9,296.8 285.6,295.9 287.4,295.0 289.2,294.0 291.0,293.1 292.8,292.2 294.5,291.2 296.3,290.3 298.1,289.3 299.8,288.4 301.6,287.4 303.4,286.5 305.1,285.5 306.9,284.6 308.7,283.6 310.4,282.6 312.2,281.7 313.9,280.7 315.7,279.7 317.4,278.7 319.2,277.8 320.9,276.8 322.7,275.8 324.4,274.8 326.2,273.8 327.9,272.8 329.7,271.8 331.4,270.8 333.1,269.8 334.9,268.8 336.6,267.8 338.4,266.8 340.1,265.8 341.8,264.8 343.6,263.8 345.3,262.8 347.1,261.8 348.8,260.8 350.5,259.8 352.3,258.8 354.0,257.8 355.8,256.8 357.5,255.8 359.2,254.8 361.0,253.9 362.7,252.9 364.5,251.9 366.2,250.9 368.0,249.9 369.7,248.9 371.5,247.9 373.2,246.9 374.9,245.9 376.7,244.9 378.5,244.0 380.2,243.0 382.0,242.0 383.7,241.0 385.5,240.1 387.2,239.1 389.0,238.2 390.8,237.2 392.5,236.2 394.3,235.3 396.1,234.3 397.8,233.4 399.6,232.5 401.4,231.5 403.2,230.6 404.9,229.7 406.7,228.8 408.5,227.8 410.3,226.9 412.1,226.0 413.9,225.1 415.7,224.2 417.5,223.3 419.3,222.5 421.1,221.6 422.9,220.7 424.7,219.8 426.5,219.0 428.3,218.1 430.1,217.3 431.9,216.4 433.8,215.6 435.6,214.7 437.4,213.9 439.2,213.0 441.0,212.2 442.9,211.3 444.7,210.5 446.5,209.7 448.3,208.8 450.2,208.0 452.0,207.1 453.8,206.3 455.6,205.5 457.5,204.6 459.3,203.8 461.1,202.9 462.9,202.1 464.7,201.2 466.5,200.4 468.4,199.5 470.2,198.7 472.0,197.8 473.8,196.9 475.6,196.0 477.4,195.2 479.2,194.3 481.0,193.4 482.8,192.5 484.6,191.6 486.4,190.7 488.1,189.7 489.9,188.8 491.7,187.9 493.5,187.0 495.3,186.1 497.1,185.2 498.9,184.3 500.7,183.5 502.6,182.7 504.4,181.9 506.3,181.2 508.2,180.5 510.0,179.8 512.0,179.2 513.9,178.7 515.8,178.2 517.8,177.8 519.8,177.4 521.7,177.0 523.7,176.7 525.7,176.5 527.7,176.3 529.7,176.1 531.7,176.0 533.7,175.9 535.7,175.8 537.7,175.8 539.7,175.9 541.7,175.9 543.8,176.0 545.8,176.1 547.8,176.3 549.8,176.4 551.8,176.5 553.8,176.5 555.8,176.5 557.8,176.4 559.8,176.3 561.8,176.1 563.8,175.9 565.8,175.6 567.7,175.3 569.7,174.9 571.7,174.6 573.7,174.2 575.6,173.8 577.6,173.4 579.6,173.1 581.6,172.7 583.5,172.4 585.5,172.1 587.5,171.8 589.5,171.6 591.5,171.5 593.5,171.4 595.5,171.4 597.5,171.5 599.5,171.6 601.5,171.9 603.5,172.2 605.4,172.7 607.4,173.3 609.3,173.9 611.1,174.7 612.9,175.5 614.7,176.4 616.5,177.4 618.2,178.5 619.8,179.6 621.5,180.8 623.1,182.0 624.6,183.3 626.1,184.6 627.6,186.0 629.0,187.4 630.4,188.8 631.7,190.3 633.1,191.8 634.3,193.4 635.6,195.0 636.8,196.6 638.0,198.2 639.1,199.8 640.2,201.5 641.3,203.2 642.3,204.9 643.3,206.7 644.3,208.4 645.3,210.2 646.3,211.9 647.2,213.7 648.2,215.4 649.2,217.2 650.1,219.0 651.1,220.7 652.1,222.5 653.1,224.2 654.1,225.9 655.1,227.7 656.1,229.4 657.2,231.1 658.2,232.8 659.3,234.5 660.4,236.2 661.5,237.9 662.6,239.6 663.7,241.2 664.7,242.9 665.8,244.6 666.9,246.3 668.0,248.0 669.1,249.7 670.2,251.4 671.2,253.1 672.3,254.8 673.3,256.5 674.4,258.2 675.4,259.9 676.4,261.7 677.4,263.4 678.3,265.2 679.3,267.0 680.2,268.7 681.1,270.5 682.0,272.3 682.8,274.2 683.7,276.0 684.5,277.8 685.3,279.7 686.0,281.5 686.8,283.4 687.6,285.2 688.3,287.1 689.1,288.9 689.8,290.8 690.5,292.7 691.3,294.6 692.0,296.4 692.7,298.3 693.4,300.2 694.2,302.0 694.9,303.9 695.6,305.8 696.4,307.6 697.1,309.5 697.9,311.3 698.7,313.2 699.5,315.0 700.3,316.9 701.1,318.7 701.9,320.5 702.7,322.4 703.6,324.2 704.4,326.0 705.2,327.8 706.1,329.7 707.0,331.5 707.8,333.3 708.7,335.1 709.6,336.9 710.5,338.7 711.4,340.5 712.3,342.3 713.2,344.0 714.1,345.8 715.0,347.6 716.0,349.4 716.9,351.2 717.8,352.9 718.8,354.7 719.7,356.5 720.7,358.3 721.6,360.0 722.6,361.8 723.5,363.5 724.5,365.3 725.5,367.1 726.4,368.8 727.4,370.6 L728.3,388.5" stroke="#8f1d24" stroke-width="1.7" fill="none" stroke-linejoin="round"/><path d="M90.8,288.1 91.6,286.2 92.3,284.4 93.1,282.5 93.9,280.7 94.8,278.8 95.6,277.0 96.5,275.2 97.4,273.4 98.2,271.6 99.1,269.8 100.0,268.0 100.9,266.2 101.8,264.4 102.7,262.6 103.6,260.8 104.5,259.0 105.3,257.2 106.2,255.4 107.0,253.6 107.9,251.8 108.7,249.9 109.5,248.1 110.3,246.2 111.1,244.4 111.8,242.5 112.6,240.7 113.4,238.8 114.1,237.0 114.9,235.1 115.6,233.3 116.4,231.4 117.1,229.5 117.9,227.7 118.6,225.8 119.4,223.9 120.1,222.1 120.9,220.2 121.6,218.4 122.4,216.5 123.2,214.7 124.0,212.8 124.8,211.0 125.6,209.1 126.4,207.3 127.2,205.5 128.1,203.7 128.9,201.9 129.8,200.0 130.7,198.2 131.5,196.4 132.4,194.6 133.3,192.9 134.3,191.1 135.2,189.3 136.1,187.5 137.1,185.8 138.1,184.0 139.0,182.3 140.0,180.5 141.0,178.8 142.0,177.0 143.1,175.3 144.1,173.6 145.1,171.9 146.2,170.2 147.3,168.5 148.3,166.8 149.4,165.1 150.5,163.4 151.6,161.7 152.7,160.1 153.9,158.4 155.0,156.8 156.2,155.1 157.3,153.5 158.5,151.9 159.7,150.2 160.9,148.6 162.1,147.0 163.3,145.4 164.5,143.8 165.7,142.2 167.0,140.7 168.2,139.1 169.5,137.5 170.8,136.0 172.0,134.4 173.3,132.9 174.6,131.4 175.9,129.9 177.3,128.3 178.6,126.8 179.9,125.4 181.3,123.9 182.7,122.4 184.0,120.9 185.4,119.5 186.8,118.1 188.2,116.6 189.6,115.2 191.1,113.8 192.5,112.4 194.0,111.0 195.5,109.7 196.9,108.3 198.4,107.0 200.0,105.7 201.5,104.4 203.0,103.1 204.6,101.8 206.1,100.5 207.7,99.3 209.3,98.1 210.9,96.9 212.5,95.7 214.1,94.5 215.7,93.3 217.4,92.2 219.1,91.1 220.7,90.0 222.4,88.9 224.2,87.8 225.9,86.8 227.6,85.8 229.4,84.9 231.2,84.0 233.0,83.1 234.8,82.3 236.6,81.5 238.5,80.7 240.4,80.0 242.3,79.4 244.2,78.8 246.1,78.2 248.1,77.7 250.0,77.3 252.0,77.0 254.0,76.7 256.0,76.5 258.0,76.4 260.0,76.3 262.0,76.2 264.0,76.2 266.0,76.3 268.0,76.4 270.0,76.5 272.0,76.7 274.0,76.9 276.0,77.1 278.0,77.4 280.0,77.7 282.0,78.0 284.0,78.3 285.9,78.6 287.9,78.9 289.9,79.3 291.9,79.6 293.8,80.0 295.8,80.3 297.8,80.7 299.8,81.0 301.7,81.3 303.7,81.6 305.7,82.0 307.7,82.3 309.7,82.6 311.7,82.8 313.7,83.1 315.6,83.4 317.6,83.6 319.6,83.9 321.6,84.1 323.6,84.3 325.6,84.5 327.6,84.7 329.6,84.9 331.6,85.1 333.6,85.2 335.6,85.4 337.6,85.5 339.6,85.6 341.6,85.7 343.6,85.8 345.6,85.8 347.6,85.9 349.6,85.9 351.6,85.9 353.6,85.9 355.6,85.9 357.7,85.9 359.7,85.8 361.7,85.8 363.7,85.8 365.7,85.7 367.7,85.7 369.7,85.6 371.7,85.6 373.7,85.5 375.7,85.5 377.7,85.5 379.7,85.5 381.7,85.5 383.7,85.5 385.7,85.5 387.7,85.6 389.7,85.7 391.7,85.8 393.7,85.9 395.7,86.1 397.7,86.3 399.7,86.6 401.7,86.8 403.7,87.1 405.7,87.5 407.7,87.9 409.6,88.3 411.6,88.7 413.5,89.2 415.5,89.7 417.4,90.2 419.4,90.7 421.3,91.2 423.2,91.8 425.1,92.3 427.1,92.9 429.0,93.4 430.9,94.0 432.8,94.6 434.8,95.1 436.7,95.7 438.6,96.3 440.5,96.8 442.5,97.4 444.4,97.9 446.4,98.4 448.3,98.9 450.2,99.4 452.2,99.9 454.1,100.3 456.1,100.8 458.1,101.2 460.0,101.6 462.0,102.1 463.9,102.5 465.9,102.9 467.9,103.4 469.8,103.8 471.8,104.2 473.7,104.7 475.7,105.1 477.6,105.6 479.6,106.1 481.5,106.6 483.5,107.1 485.4,107.6 487.3,108.1 489.3,108.7 491.2,109.3 493.1,109.9 495.0,110.5 496.9,111.1 498.8,111.8 500.7,112.5 502.5,113.3 504.4,114.0 506.2,114.8 508.1,115.6 509.9,116.5 511.7,117.3 513.5,118.2 515.3,119.0 517.1,119.9 518.9,120.8 520.7,121.7 522.5,122.6 524.3,123.5 526.1,124.4 527.9,125.4 529.7,126.3 531.4,127.2 533.2,128.1 535.0,129.0 536.8,129.9 538.6,130.8 540.4,131.7 542.2,132.6 544.0,133.5 545.8,134.3 547.6,135.2 549.5,136.0 551.3,136.8 553.1,137.6 555.0,138.3 556.9,139.1 558.7,139.8 560.6,140.5 562.5,141.1 564.4,141.8 566.3,142.4 568.2,143.1 570.1,143.7 572.0,144.3 574.0,144.9 575.9,145.6 577.8,146.2 579.7,146.8 581.6,147.5 583.5,148.2 585.3,148.8 587.2,149.6 589.1,150.3 590.9,151.1 592.8,151.9 594.6,152.7 596.4,153.6 598.2,154.5 599.9,155.5 601.7,156.4 603.4,157.5 605.1,158.5 606.8,159.6 608.4,160.8 610.0,162.0 611.6,163.2 613.2,164.5 614.7,165.8 616.2,167.1 617.7,168.5 619.1,169.9 620.5,171.3 621.9,172.8 623.2,174.3 624.5,175.8 625.8,177.3 627.1,178.9 628.3,180.5 629.6,182.0 630.8,183.7 632.0,185.3 633.1,186.9 634.3,188.5 635.4,190.2 636.6,191.8 637.7,193.5 638.8,195.2 639.9,196.9 641.0,198.5 642.1,200.2 643.2,201.9 644.3,203.6 645.3,205.3 646.4,207.0 647.5,208.7 648.6,210.4 649.6,212.1 650.7,213.8 651.7,215.5 652.8,217.2 653.8,218.9 654.9,220.6 655.9,222.3 656.9,224.0 658.0,225.8 659.0,227.5 660.0,229.2 661.0,231.0 662.0,232.7 663.0,234.4 664.0,236.2 665.0,237.9 666.0,239.7 666.9,241.4 667.9,243.2 668.9,245.0 669.8,246.7 670.7,248.5 671.7,250.3 672.6,252.1 673.5,253.8 674.4,255.6 675.3,257.4 676.2,259.2 677.1,261.0 678.0,262.8 678.9,264.6 679.8,266.4 680.6,268.2 681.5,270.0 682.4,271.8 683.2,273.7 684.1,275.5 684.9,277.3 685.7,279.1 686.6,280.9 687.4,282.8 688.2,284.6 689.1,286.4 689.9,288.3 690.7,290.1 691.6,291.9 692.4,293.7 693.2,295.6 694.0,297.4 694.9,299.2 695.7,301.1 696.5,302.9 697.3,304.7 698.2,306.5 699.0,308.4 699.8,310.2 700.7,312.0 701.5,313.8 702.3,315.7 703.2,317.5 704.0,319.3 704.9,321.1 705.7,322.9 706.6,324.7 707.4,326.6 708.3,328.4 709.1,330.2 709.9,332.0 710.8,333.8 711.6,335.7 712.5,337.5 713.3,339.3 714.1,341.1 715.0,343.0 715.8,344.8 716.6,346.6 717.5,348.4 718.3,350.3 719.1,352.1 719.9,353.9 720.7,355.8 721.5,357.6 722.3,359.5 723.1,361.3 723.9,363.1 724.7,365.0 725.5,366.8 726.2,368.7 727.0,370.5 727.8,372.4 728.5,374.3 729.3,376.1 730.0,378.0 730.7,379.9 731.4,381.7 732.1,383.6 732.8,385.5 733.5,387.4 734.2,389.3 734.9,391.2 735.6,393.0 736.2,394.9" stroke="#141460" stroke-width="1.7" fill="none" stroke-linejoin="round"/><path d="M91.2,442.2 92.5,440.6 93.7,439.0 94.9,437.4 96.1,435.8 97.3,434.2 98.4,432.5 99.6,430.9 100.8,429.3 101.9,427.6 103.1,426.0 104.2,424.3 105.3,422.7 106.5,421.0 107.6,419.3 108.7,417.7 109.8,416.0 110.9,414.3 112.0,412.6 113.1,410.9 114.2,409.3 115.2,407.6 116.3,405.9 117.4,404.2 118.5,402.5 119.5,400.8 120.6,399.1 121.7,397.4 122.8,395.7 123.8,394.0 124.9,392.3 126.0,390.6 127.1,388.9 128.2,387.3 129.2,385.6 130.3,383.9 131.4,382.2 132.5,380.5 133.6,378.8 134.7,377.2 135.8,375.5 136.9,373.8 138.1,372.2 139.2,370.5 140.3,368.9 141.5,367.2 142.6,365.6 143.8,363.9 145.0,362.3 146.1,360.7 147.3,359.1 148.5,357.4 149.7,355.8 150.9,354.2 152.1,352.6 153.3,351.0 154.5,349.4 155.8,347.8 157.0,346.2 158.2,344.7 159.4,343.1 160.7,341.5 161.9,339.9 163.1,338.3 164.4,336.8 165.6,335.2 166.9,333.6 168.1,332.0 169.4,330.5 170.6,328.9 171.9,327.3 173.1,325.8 174.4,324.2 175.6,322.6 176.8,321.0 178.1,319.5 179.3,317.9 180.6,316.3 181.8,314.7 183.0,313.2 184.3,311.6 185.5,310.0 186.7,308.4 188.0,306.8 189.2,305.2 190.4,303.7 191.7,302.1 192.9,300.5 194.1,298.9 195.4,297.3 196.6,295.7 197.8,294.2 199.1,292.6 200.3,291.0 201.6,289.4 202.8,287.9 204.1,286.3 205.3,284.8 206.6,283.2 207.9,281.6 209.1,280.1 210.4,278.5 211.7,277.0 213.0,275.5 214.3,273.9 215.6,272.4 216.9,270.9 218.2,269.4 219.6,267.9 220.9,266.4 222.3,264.9 223.6,263.5 225.0,262.0 226.4,260.5 227.8,259.1 229.2,257.6 230.6,256.2 232.0,254.8 233.4,253.4 234.9,252.0 236.3,250.6 237.8,249.3 239.3,247.9 240.7,246.6 242.2,245.2 243.7,243.9 245.3,242.6 246.8,241.3 248.3,240.0 249.9,238.7 251.4,237.4 253.0,236.2 254.6,234.9 256.1,233.7 257.7,232.5 259.3,231.3 260.9,230.0 262.5,228.8 264.1,227.7 265.8,226.5 267.4,225.3 269.0,224.2 270.7,223.0 272.3,221.9 274.0,220.7 275.6,219.6 277.3,218.5 279.0,217.4 280.7,216.3 282.3,215.2 284.0,214.1 285.7,213.0 287.4,212.0 289.1,210.9 290.8,209.9 292.5,208.8 294.3,207.8 296.0,206.7 297.7,205.7 299.4,204.7 301.1,203.6 302.8,202.6 304.6,201.6 306.3,200.5 308.0,199.5 309.7,198.5 311.5,197.5 313.2,196.4 314.9,195.4 316.6,194.4 318.4,193.4 320.1,192.3 321.8,191.3 323.5,190.3 325.2,189.2 326.9,188.2 328.7,187.1 330.4,186.1 332.1,185.0 333.8,184.0 335.5,182.9 337.1,181.8 338.8,180.7 340.5,179.6 342.2,178.5 343.9,177.4 345.5,176.3 347.2,175.1 348.8,174.0 350.5,172.8 352.1,171.7 353.7,170.5 355.3,169.3 356.9,168.1 358.6,166.9 360.2,165.7 361.7,164.5 363.3,163.3 364.9,162.1 366.5,160.8 368.1,159.6 369.7,158.4 371.3,157.1 372.9,155.9 374.4,154.7 376.0,153.5 377.6,152.2 379.2,151.0 380.8,149.8 382.4,148.6 384.0,147.4 385.6,146.2 387.2,145.0 388.9,143.8 390.5,142.7 392.2,141.5 393.8,140.4 395.5,139.3 397.1,138.2 398.8,137.1 400.5,136.0 402.2,134.9 403.9,133.9 405.7,132.9 407.4,131.9 409.2,130.9 410.9,130.0 412.7,129.1 414.5,128.1 416.3,127.2 418.1,126.4 419.9,125.5 421.7,124.7 423.6,123.8 425.4,123.0 427.2,122.2 429.1,121.4 430.9,120.6 432.7,119.8 434.6,119.0 436.4,118.3 438.3,117.5 440.2,116.8 442.0,116.0 443.9,115.2 445.7,114.5 447.6,113.7 449.5,113.0 451.3,112.2 453.2,111.5 455.0,110.7 456.9,110.0 458.7,109.2 460.6,108.4 462.4,107.6 464.3,106.8 466.1,106.0 467.9,105.2 469.7,104.3 471.5,103.4 473.4,102.6 475.2,101.7 477.0,100.8 478.7,99.9 480.5,99.0 482.3,98.1 484.2,97.3 486.0,96.4 487.8,95.6 489.6,94.8 491.5,94.0 493.4,93.3 495.2,92.6 497.1,91.9 499.0,91.3 501.0,90.8 502.9,90.3 504.9,89.8 506.8,89.4 508.8,89.0 510.8,88.6 512.7,88.3 514.7,88.0 516.7,87.8 518.7,87.6 520.7,87.3 522.7,87.2 524.7,87.0 526.7,86.8 528.7,86.6 530.7,86.5 532.7,86.3 534.7,86.2 536.7,86.0 538.7,85.8 540.7,85.7 542.7,85.5 544.7,85.3 546.7,85.0 548.7,84.8 550.7,84.5 552.6,84.2 554.6,83.9 556.6,83.5 558.6,83.1 560.5,82.7 562.5,82.3 564.4,81.8 566.4,81.3 568.3,80.9 570.3,80.4 572.2,79.9 574.2,79.4 576.1,79.0 578.1,78.5 580.0,78.1 582.0,77.7 584.0,77.4 586.0,77.1 588.0,76.8 590.0,76.6 592.0,76.5 594.0,76.5 596.0,76.5 598.0,76.6 600.0,76.8 601.9,77.1 603.9,77.5 605.9,78.0 607.8,78.6 609.7,79.2 611.5,80.0 613.4,80.8 615.2,81.6 617.0,82.6 618.7,83.5 620.4,84.6 622.1,85.7 623.8,86.8 625.4,88.0 626.9,89.3 628.5,90.6 630.0,91.9 631.4,93.3 632.8,94.8 634.1,96.3 635.4,97.8 636.6,99.4 637.8,101.0 638.9,102.7 640.0,104.4 641.0,106.1 642.1,107.8 643.1,109.5 644.0,111.3 645.0,113.0 646.0,114.8 646.9,116.6 647.8,118.4 648.8,120.1 649.7,121.9 650.7,123.7 651.7,125.4 652.6,127.2 653.6,128.9 654.7,130.6 655.7,132.3 656.8,134.0 657.9,135.7 659.1,137.3 660.2,139.0 661.4,140.6 662.5,142.3 663.7,143.9 664.8,145.6 665.9,147.2 667.0,148.9 668.1,150.6 669.2,152.3 670.2,154.0 671.2,155.7 672.2,157.5 673.2,159.2 674.1,161.0 675.1,162.8 676.0,164.6 676.9,166.4 677.7,168.2 678.6,170.0 679.4,171.8 680.3,173.6 681.1,175.5 681.9,177.3 682.7,179.1 683.4,181.0 684.2,182.9 684.9,184.7 685.7,186.6 686.4,188.5 687.1,190.3 687.8,192.2 688.5,194.1 689.2,196.0 689.9,197.9 690.5,199.8 691.2,201.6 691.9,203.5 692.5,205.4 693.2,207.3 693.8,209.2 694.5,211.1 695.1,213.0 695.7,214.9 696.4,216.8 697.0,218.7 697.7,220.6 698.3,222.5 699.0,224.4 699.6,226.3 700.3,228.2 700.9,230.1 701.6,232.0 702.3,233.9 703.0,235.8 703.7,237.6 704.4,239.5 705.2,241.4 705.9,243.2 706.7,245.1 707.5,246.9 708.3,248.8 709.1,250.6 710.0,252.4 710.8,254.2 711.7,256.0 712.6,257.8 713.5,259.6 714.4,261.4 715.3,263.2 716.1,265.0 717.0,266.8 717.9,268.6 718.8,270.4 719.6,272.3 720.4,274.1 721.2,275.9 722.0,277.8 722.8,279.6 723.5,281.5 724.2,283.4 724.8,285.3 725.4,287.2 726.0,289.1 726.5,291.1 727.1,293.0 727.6,294.9 728.0,296.9 728.5,298.8 728.9,300.8 729.4,302.8 729.8,304.7 730.2,306.7 730.6,308.6 731.0,310.6 731.4,312.6 731.9,314.5 732.3,316.5 732.7,318.4 733.2,320.4 733.6,322.3 734.1,324.3 734.6,326.2 735.2,328.2 735.8,330.1" stroke="#141460" stroke-width="1.7" fill="none" stroke-linejoin="round"/><g fill="none" stroke="#7a7ad0" stroke-width="0.7"><rect x="169.8" y="132.6" width="3.6" height="3.6"/><rect x="266.0" y="73.8" width="3.6" height="3.6"/><rect x="480.2" y="104.8" width="3.6" height="3.6"/><rect x="533.7" y="127.0" width="3.6" height="3.6"/><rect x="578.2" y="145.0" width="3.6" height="3.6"/><rect x="621.2" y="171.1" width="3.6" height="3.6"/><rect x="655.2" y="221.6" width="3.6" height="3.6"/></g><g font-family="Liberation Sans, Arial, sans-serif" font-size="9.7" letter-spacing="-0.42" text-rendering="geometricPrecision" fill="#151515" stroke="#151515" stroke-width="0.1"><text x="41.6" y="31.0" text-anchor="end">183.8</text><text x="41.6" y="71.0" text-anchor="end">170.0</text><text x="41.6" y="99.0" text-anchor="end">160.0</text><text x="41.6" y="128.0" text-anchor="end">150.0</text><text x="41.6" y="156.0" text-anchor="end">140.0</text><text x="41.6" y="185.0" text-anchor="end">130.0</text><text x="41.6" y="213.0" text-anchor="end">120.0</text><text x="41.6" y="242.0" text-anchor="end">110.0</text><text x="41.6" y="270.0" text-anchor="end">100.0</text><text x="41.6" y="299.0" text-anchor="end">90.0</text><text x="41.6" y="327.0" text-anchor="end">80.0</text><text x="41.6" y="356.0" text-anchor="end">70.0</text><text x="41.6" y="384.0" text-anchor="end">60.0</text><text x="41.6" y="413.0" text-anchor="end">50.0</text><text x="41.6" y="441.0" text-anchor="end">40.0</text><text x="41.6" y="470.0" text-anchor="end">30.0</text><text x="41.6" y="498.0" text-anchor="end">20.0</text><text x="41.6" y="527.0" text-anchor="end">10.0</text><text x="41.6" y="556.0" text-anchor="end">0.0</text><text x="746.5" y="31.0">456.7</text><text x="746.5" y="50.0">440.0</text><text x="746.5" y="73.0">420.0</text><text x="746.5" y="96.0">400.0</text><text x="746.5" y="119.0">380.0</text><text x="746.5" y="142.0">360.0</text><text x="746.5" y="165.0">340.0</text><text x="746.5" y="188.0">320.0</text><text x="746.5" y="211.0">300.0</text><text x="746.5" y="234.0">280.0</text><text x="746.5" y="257.0">260.0</text><text x="746.5" y="280.0">240.0</text><text x="746.5" y="303.0">220.0</text><text x="746.5" y="326.0">200.0</text><text x="746.5" y="349.0">180.0</text><text x="746.5" y="372.0">160.0</text><text x="746.5" y="395.0">140.0</text><text x="746.5" y="418.0">120.0</text><text x="746.5" y="441.0">100.0</text><text x="746.5" y="464.0">80.0</text><text x="746.5" y="487.0">60.0</text><text x="746.5" y="510.0">40.0</text><text x="746.5" y="533.0">20.0</text><text x="746.5" y="556.0">0.0</text><text x="48.5" y="567" text-anchor="middle">1000</text><text x="95.5" y="567" text-anchor="middle">1200</text><text x="141.5" y="567" text-anchor="middle">1400</text><text x="187.5" y="567" text-anchor="middle">1600</text><text x="233.5" y="567" text-anchor="middle">1800</text><text x="279.5" y="567" text-anchor="middle">2000</text><text x="325.5" y="567" text-anchor="middle">2200</text><text x="372.5" y="567" text-anchor="middle">2400</text><text x="417.5" y="567" text-anchor="middle">2600</text><text x="464.5" y="567" text-anchor="middle">2800</text><text x="510.5" y="567" text-anchor="middle">3000</text><text x="556.5" y="567" text-anchor="middle">3200</text><text x="602.5" y="567" text-anchor="middle">3400</text><text x="648.5" y="567" text-anchor="middle">3600</text><text x="694.5" y="567" text-anchor="middle">3800</text><text x="741.5" y="567" text-anchor="middle">4000</text></g><g font-family="Liberation Sans, Arial, sans-serif" font-size="10.1" text-rendering="geometricPrecision" fill="#141414" stroke="#141414" stroke-width="0.05"><text x="395.3" y="580.5" text-anchor="middle" letter-spacing="-0.27">Toerental (rpm)</text><text transform="translate(14.9,290.4) rotate(-90)" text-anchor="middle" letter-spacing="-0.45">EEC Motor Vermogen (pk)</text><text transform="translate(772.5,290.9) rotate(90)" text-anchor="middle" letter-spacing="-0.45">EEC Torque (Nm)</text></g>
</svg>
</body></html>
